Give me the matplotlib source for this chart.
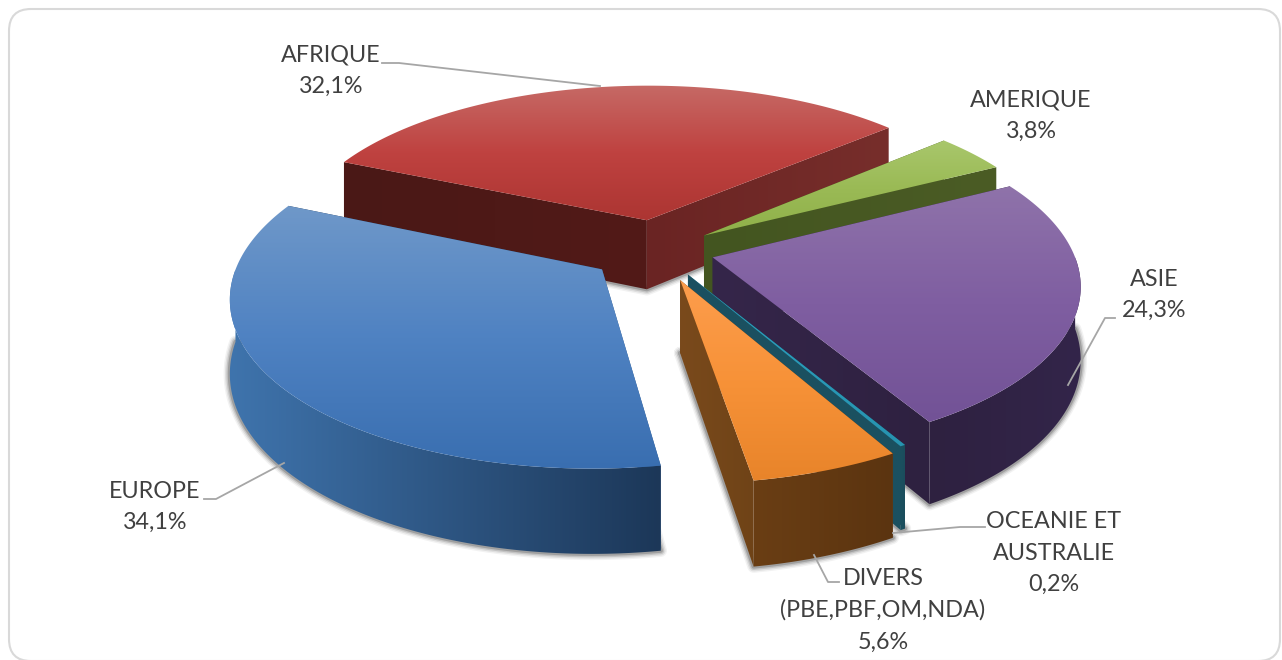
import numpy as np
import matplotlib
matplotlib.use("Agg")
import matplotlib.pyplot as plt
from matplotlib.colors import LinearSegmentedColormap
from matplotlib.patches import FancyBboxPatch, Polygon

# slices, clockwise from the start angle
labels = ["AFRIQUE\n32,1%", "AMERIQUE\n3,8%", "ASIE\n24,3%",
          "OCEANIE ET\nAUSTRALIE\n0,2%", "DIVERS\n(PBE,PBF,OM,NDA)\n5,6%", "EUROPE\n34,1%"]
values = [32.1, 3.8, 24.3, 0.2, 5.6, 34.1]
explode = [0.19, 0.16, 0.16, 0.17, 0.19, 0.19]

# top gradient (back to front), outer wall gradient (left to right), the two cut faces
top_colors = [["#c66a66", "#bf4240", "#ac3532"], ["#a9c76c", "#9aba55", "#8fb049"],
              ["#8f73aa", "#7f5ea1", "#725296"], ["#2fa3c0", "#2a9ab8", "#2793b0"],
              ["#fd9d4d", "#f79238", "#e8842a"], ["#6f98c9", "#4f82c2", "#396eb0"]]
wall_colors = [["#6a2523", "#772e2b"], ["#4b5c25", "#46581f"], ["#2e2140", "#33254a"],
               ["#1b5060", "#1b4c5b"], ["#6a3e14", "#5b3410"], ["#3f74ad", "#1c3758"]]
start_face = [["#4a1816", "#521a18"], ["#435520", "#4b5c25"], ["#35264a", "#2e2140"],
              ["#1b5060", "#1b5060"], ["#6a3e14", "#6a3e14"], ["#2f5a8c", "#2f5a8c"]]
end_face = [["#6a2423", "#772e2b"], ["#435520", "#4b5c25"], ["#35264a", "#2e2140"],
            ["#1b5060", "#1b5060"], ["#7a4a1c", "#6f4317"], ["#1c3758", "#1c3758"]]
has_shadow = [True, False, True, True, True, True]

start_angle = 156.5
center_x, center_y = 657, 250
radius_x, radius_y = 360, 163
depth = 71
persp = 0.15

leader_lines = [
    ([382, 399, 600], [63, 63, 86]),
    ([1115, 1105, 1068], [318, 318, 385]),
    ([985, 960, 893], [527, 527, 533]),
    ([839, 828, 814], [582, 582, 555]),
    ([204, 216, 284], [499, 499, 463]),
]
label_pos = [(331, 71), (1031, 116), (1154, 295), (1054, 553), (883, 610), (155, 507)]

draw_order = [10]


def next_z():
    draw_order[0] += 1
    return draw_order[0]


def project(x, y, z=0.0):
    f = 1 / (1 + persp * y)
    return center_x + radius_x * x * f, center_y - radius_y * y * f + depth * z * f


def gradient_fill(ax, xs, ys, colors, vertical=True):
    poly = Polygon(np.column_stack([xs, ys]), closed=True, fc="none", ec="none")
    ax.add_patch(poly)
    cmap = LinearSegmentedColormap.from_list("g", colors)
    grad = np.linspace(0, 1, 256)
    grad = grad.reshape(-1, 1) if vertical else grad.reshape(1, -1)
    im = ax.imshow(grad, cmap=cmap, aspect="auto", interpolation="bilinear", vmin=0, vmax=1,
                   extent=(min(xs) - 1, max(xs) + 1, max(ys) + 1, min(ys) - 1), origin="upper",
                   zorder=next_z())
    im.set_clip_path(poly)
    ax.set_xlim(0, 1282)
    ax.set_ylim(660, 0)


def draw_slice(ax, a_start, a_end, e, i):
    mid = np.radians((a_start + a_end) / 2)
    ox, oy = e * np.cos(mid), e * np.sin(mid)
    t = np.radians(np.linspace(a_start, a_end, 240))
    rim_x, rim_y = ox + np.cos(t), oy + np.sin(t)

    tx, ty = project(rim_x, rim_y)
    bx, by = project(rim_x, rim_y, 1.0)
    ax0, ay0 = project(ox, oy)
    ax1, ay1 = project(ox, oy, 1.0)
    front = np.sin(t) < 0

    if has_shadow[i]:
        sx = np.r_[ax1, bx[front], ax1]
        sy = np.r_[ay1, by[front], ay1]
        if i == 0:
            sx, sy = np.r_[bx[0], ax1, bx[-1]], np.r_[by[0], ay1, by[-1]]
        for lw, alpha in [(9, 0.05), (7, 0.08), (5, 0.12), (3, 0.18)]:
            ax.plot(sx, sy, color="black", lw=lw, alpha=alpha, solid_capstyle="round", zorder=next_z())

    # cut faces first, then the part of the wall facing us, then the top over them
    gradient_fill(ax, [ax0, tx[0], bx[0], ax1], [ay0, ty[0], by[0], ay1], start_face[i], vertical=False)
    gradient_fill(ax, [ax0, tx[-1], bx[-1], ax1], [ay0, ty[-1], by[-1], ay1], end_face[i], vertical=False)
    if front.any():
        gradient_fill(ax, np.r_[tx[front], bx[front][::-1]], np.r_[ty[front], by[front][::-1]],
                      wall_colors[i], vertical=False)
    gradient_fill(ax, np.r_[ax0, tx], np.r_[ay0, ty], top_colors[i], vertical=True)


plt.rcParams["font.family"] = ["Lato", "DejaVu Sans"]
fig = plt.figure(figsize=(12.82, 6.6), dpi=100)
ax = fig.add_axes([0, 0, 1, 1])
ax.set_xlim(0, 1282)
ax.set_ylim(660, 0)
ax.axis("off")

frame = FancyBboxPatch((29, 29), 1231, 612, boxstyle="round,pad=20,rounding_size=22",
                       fc="white", ec="#d9d9d9", lw=1.5, zorder=1)
ax.add_patch(frame)

spans = np.array(values) / sum(values) * 360
angle = start_angle
for i, span in enumerate(spans):
    draw_slice(ax, angle, angle - span, explode[i], i)
    angle -= span

for xs, ys in leader_lines:
    ax.plot(xs, ys, color="#a6a6a6", lw=1.3, zorder=5000)

for (x, y), text in zip(label_pos, labels):
    ax.text(x, y, text, ha="center", va="center", fontsize=16.8, color="#404040", linespacing=1.62, zorder=5001)

fig.savefig("out.png", dpi=100)
